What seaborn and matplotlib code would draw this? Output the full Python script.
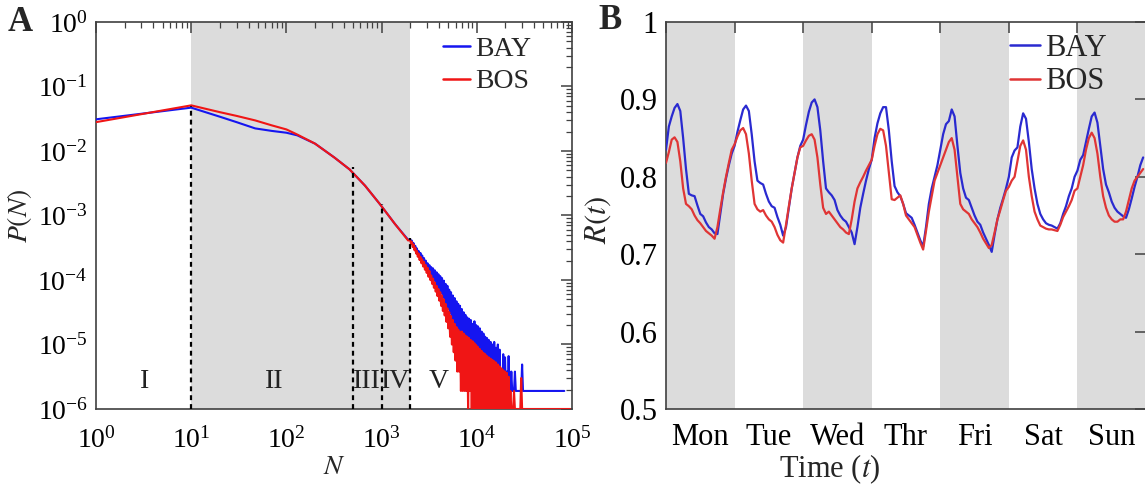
import numpy as np
import pandas as pd
import matplotlib
matplotlib.use("Agg")
import matplotlib.pyplot as plt
import seaborn as sns
from matplotlib.lines import Line2D
from matplotlib.ticker import LogLocator, FixedLocator, NullFormatter, FixedFormatter

# ---------------- Panel A data: P(N) ----------------
cities = ["BAY", "BOS"]
N_main = [1, 10, 20, 30, 47, 70, 100, 130, 200, 320, 460, 670, 960, 1380, 1900]
bay_main = [0.031, 0.047, 0.034, 0.028, 0.0224, 0.0205, 0.0192, 0.0175, 0.013,
            0.0079, 0.0052, 0.0029, 0.0015, 7.4e-4, 4.2e-4]
bos_main = [0.028, 0.051, 0.040, 0.035, 0.0298, 0.025, 0.0216, 0.018, 0.013,
            0.0079, 0.0052, 0.0029, 0.0015, 7.4e-4, 4.1e-4]

# noisy tail (N >= 2000); probabilities stored as log10 values
N_tail = [2000, 2040, 2080, 2125, 2170, 2215, 2260, 2305, 2350, 2400, 2450, 2505, 2560,
          2615, 2670, 2730, 2790, 2850, 2910, 2975, 3040, 3110, 3180, 3250, 3320, 3395,
          3470, 3545, 3620, 3700, 3780, 3865, 3950, 4040, 4130, 4220, 4310, 4405, 4500,
          4600, 4700, 4805, 4910, 5020, 5130, 5245, 5360, 5480, 5600, 5725, 5850, 5980,
          6110, 6245, 6380, 6520, 6660, 6810, 6960, 7115, 7270, 7430, 7590, 7760, 7930,
          8105, 8280, 8465, 8650, 8845, 9040, 9240, 9440, 9650, 9860, 10080, 10300,
          10530, 10760, 11000, 11240, 11490, 11740, 12000, 12260, 12535, 12810, 13095,
          13380, 13675, 13970, 14280, 14590, 14915, 15240, 15580, 15920, 16275, 16630,
          17000, 17370, 17755, 18140, 18545, 18950, 19370, 19790, 20230, 20670, 21130,
          21590, 22070, 22550, 23050, 23550, 24075, 24600, 25145, 25690, 26260, 26830,
          27430, 28030, 28650, 29270, 29920, 30570, 31250, 31930, 32640, 33350, 40000, 60000]
bay_tail_log10 = [
    -3.37, -3.41, -3.39, -3.46, -3.43, -3.50, -3.47, -3.54, -3.51, -3.59, -3.55, -3.63,
    -3.58, -3.68, -3.62, -3.72, -3.66, -3.77, -3.70, -3.80, -3.74, -3.86, -3.77, -3.90,
    -3.80, -3.95, -3.82, -4.00, -3.85, -4.05, -3.88, -4.10, -3.91, -4.16, -3.94, -4.20,
    -3.97, -4.26, -4.01, -4.32, -4.06, -4.38, -4.09, -4.45, -4.15, -4.52, -4.19, -4.60,
    -4.24, -4.68, -4.28, -4.78, -4.33, -4.88, -4.37, -5.00, -4.40, -5.12, -4.45, -5.25,
    -4.50, -5.42, -4.54, -5.72, -4.58, -5.42, -4.60, -5.72, -4.62, -5.72, -4.68, -5.42,
    -4.64, -5.72, -4.70, -5.72, -4.72, -5.42, -4.75, -5.72, -4.80, -5.72, -4.83, -5.72,
    -4.88, -5.42, -4.90, -5.72, -4.93, -5.72, -4.96, -5.72, -5.00, -5.72, -4.96, -5.72,
    -5.05, -5.72, -5.00, -5.72, -5.08, -5.72, -5.42, -5.72, -5.15, -5.72, -5.20, -5.72,
    -5.42, -5.72, -5.18, -5.72, -5.72, -5.42, -5.72, -5.72, -5.72, -5.42, -5.72, -5.72,
    -5.72, -5.72, -5.72, -5.72, -5.72, -5.31, -5.72, -5.72, -5.72, -5.72, -5.72, -5.72,
    -5.72]
bos_tail_log10 = [
    -3.38, -3.44, -3.41, -3.49, -3.45, -3.54, -3.50, -3.59, -3.55, -3.64, -3.59, -3.69,
    -3.64, -3.74, -3.68, -3.79, -3.72, -3.84, -3.77, -3.89, -3.81, -3.95, -3.86, -4.00,
    -3.93, -4.06, -3.98, -4.12, -4.04, -4.18, -4.09, -4.25, -4.14, -4.32, -4.19, -4.40,
    -4.24, -4.48, -4.30, -4.55, -4.37, -4.65, -4.44, -4.75, -4.50, -4.88, -4.56, -5.00,
    -4.62, -5.12, -4.68, -5.25, -4.73, -5.42, -4.77, -5.42, -4.80, -5.72, -4.80, -5.72,
    -4.83, -5.72, -4.86, -5.72, -4.88, -6.00, -4.90, -5.72, -4.93, -6.00, -4.95, -6.00,
    -4.98, -6.00, -5.01, -6.00, -5.04, -6.00, -5.07, -6.00, -5.10, -6.00, -5.13, -6.00,
    -5.15, -6.00, -5.18, -6.00, -5.20, -6.00, -5.22, -6.00, -5.24, -6.00, -5.26, -6.00,
    -5.28, -6.00, -5.31, -6.00, -5.34, -6.00, -5.37, -6.00, -5.40, -6.00, -5.42, -6.00,
    -5.44, -6.00, -5.50, -6.00, -5.72, -6.00, -6.00, -6.00, -5.72, -6.00, -6.00, -6.00,
    -6.00, -6.00, -6.00, -6.00, -5.52, -6.00, -6.00, -6.00, -6.00, -6.00, -6.00, -6.00,
    -6.00]
bay_end_N, bay_end_log10 = [83000], [-5.72]
bos_end_N, bos_end_log10 = [95000], [-6.00]

region_bounds = [10, 500, 1000, 2000]
region_tops = [0.05, 0.0056, 0.0015, 4.4e-4]
region_names = ["I", "II", "III", "IV", "V"]
region_label_N = [3.2, 75, 700, 1400, 4000]

# ---------------- Panel B data: R(t), hourly ----------------
days = ["Mon", "Tue", "Wed", "Thr", "Fri", "Sat", "Sun"]
bay_mon = [0.835, 0.865, 0.878, 0.889, 0.894, 0.885, 0.850, 0.810, 0.778, 0.776, 0.775, 0.763,
           0.752, 0.749, 0.741, 0.735, 0.732, 0.727, 0.726, 0.752, 0.778, 0.798, 0.815, 0.830]
bay_tue = [0.840, 0.858, 0.873, 0.887, 0.892, 0.885, 0.855, 0.820, 0.795, 0.792, 0.790, 0.778,
           0.768, 0.762, 0.760, 0.748, 0.738, 0.724, 0.735, 0.760, 0.785, 0.805, 0.825, 0.840]
bay_wed = [0.848, 0.867, 0.884, 0.896, 0.900, 0.890, 0.860, 0.820, 0.785, 0.780, 0.776, 0.770,
           0.757, 0.750, 0.745, 0.742, 0.735, 0.728, 0.713, 0.735, 0.760, 0.778, 0.795, 0.810]
bay_thr = [0.822, 0.850, 0.869, 0.882, 0.890, 0.890, 0.860, 0.820, 0.788, 0.780, 0.775, 0.765,
           0.753, 0.750, 0.747, 0.738, 0.728, 0.718, 0.710, 0.735, 0.765, 0.785, 0.800, 0.815]
bay_fri = [0.835, 0.855, 0.868, 0.872, 0.887, 0.878, 0.840, 0.805, 0.785, 0.773, 0.770, 0.760,
           0.750, 0.742, 0.738, 0.728, 0.720, 0.712, 0.703, 0.725, 0.745, 0.760, 0.772, 0.785]
bay_sat = [0.800, 0.825, 0.834, 0.838, 0.865, 0.882, 0.875, 0.845, 0.810, 0.785, 0.765, 0.752,
           0.745, 0.740, 0.738, 0.737, 0.735, 0.733, 0.740, 0.752, 0.762, 0.775, 0.785, 0.800]
bay_sun = [0.808, 0.822, 0.828, 0.845, 0.862, 0.878, 0.883, 0.870, 0.840, 0.810, 0.790, 0.780,
           0.768, 0.760, 0.755, 0.752, 0.749, 0.747, 0.758, 0.772, 0.787, 0.800, 0.815, 0.825]
bos_mon = [0.818, 0.832, 0.848, 0.851, 0.845, 0.820, 0.785, 0.765, 0.762, 0.758, 0.750, 0.744,
           0.740, 0.735, 0.730, 0.727, 0.724, 0.720, 0.735, 0.758, 0.780, 0.800, 0.818, 0.835]
bos_tue = [0.842, 0.852, 0.860, 0.863, 0.855, 0.830, 0.795, 0.765, 0.758, 0.755, 0.757, 0.750,
           0.745, 0.742, 0.735, 0.725, 0.718, 0.715, 0.738, 0.762, 0.785, 0.805, 0.825, 0.838]
bos_wed = [0.840, 0.847, 0.853, 0.855, 0.848, 0.825, 0.790, 0.760, 0.752, 0.755, 0.750, 0.745,
           0.740, 0.735, 0.732, 0.728, 0.726, 0.745, 0.768, 0.785, 0.793, 0.800, 0.808, 0.815]
bos_thr = [0.822, 0.840, 0.855, 0.862, 0.860, 0.840, 0.805, 0.771, 0.770, 0.773, 0.776, 0.765,
           0.750, 0.745, 0.740, 0.735, 0.725, 0.715, 0.706, 0.730, 0.755, 0.775, 0.795, 0.805]
bos_fri = [0.815, 0.825, 0.835, 0.845, 0.850, 0.835, 0.800, 0.765, 0.758, 0.755, 0.752, 0.745,
           0.740, 0.735, 0.728, 0.720, 0.714, 0.708, 0.712, 0.728, 0.745, 0.757, 0.770, 0.782]
bos_sat = [0.787, 0.795, 0.800, 0.820, 0.840, 0.847, 0.835, 0.800, 0.775, 0.755, 0.745, 0.737,
           0.735, 0.733, 0.732, 0.732, 0.731, 0.730, 0.738, 0.748, 0.755, 0.762, 0.770, 0.782]
bos_sun = [0.785, 0.800, 0.815, 0.835, 0.850, 0.857, 0.850, 0.830, 0.800, 0.775, 0.760, 0.750,
           0.745, 0.742, 0.742, 0.745, 0.745, 0.755, 0.770, 0.785, 0.795, 0.800, 0.805, 0.810]
bay_week = [bay_mon, bay_tue, bay_wed, bay_thr, bay_fri, bay_sat, bay_sun]
bos_week = [bos_mon, bos_tue, bos_wed, bos_thr, bos_fri, bos_sat, bos_sun]
r_ticks = [0.5, 0.6, 0.7, 0.8, 0.9, 1.0]
r_ticklabels = ["0.5", "0.6", "0.7", "0.8", "0.9", "1"]

# ---------------- style ----------------
sns.set_theme(style="white")
plt.rcParams['font.family'] = ['Liberation Serif', 'DejaVu Serif']
plt.rcParams['mathtext.fontset'] = 'stix'
FSA = 20
FSB = 22
GRAY = '#dcdcdc'
SPINE = '#404040'
colA = {"BAY": "#1515f0", "BOS": "#f01515"}
colB = {"BAY": "#2a2ad0", "BOS": "#e03535"}

fig = plt.figure(figsize=(11.45, 4.86), dpi=100)
W, H = 1145, 486
axA = fig.add_axes([96 / W, (H - 409) / H, 476 / W, 387 / H])
axB = fig.add_axes([666 / W, (H - 409) / H, 480 / W, 387 / H])

def style_spines(ax):
    for s in ax.spines.values():
        s.set_color(SPINE)
        s.set_linewidth(1.2)
        s.set_visible(True)

# ---------------- Panel A ----------------
axA.set_xscale('log')
axA.set_yscale('log')
axA.axvspan(region_bounds[0], region_bounds[-1], color=GRAY, zorder=0, lw=0)

bay_P = bay_main + list(10.0 ** np.array(bay_tail_log10 + bay_end_log10))
bos_P = bos_main + list(10.0 ** np.array(bos_tail_log10 + bos_end_log10))
dfA = pd.concat([
    pd.DataFrame({"N": N_main + N_tail + bay_end_N, "P": bay_P, "city": "BAY"}),
    pd.DataFrame({"N": N_main + N_tail + bos_end_N, "P": bos_P, "city": "BOS"}),
])
sns.lineplot(data=dfA, x="N", y="P", hue="city", hue_order=cities, palette=colA,
             estimator=None, sort=False, linewidth=1.5, legend=False, ax=axA, zorder=3)
axA.vlines(region_bounds, 1e-6, region_tops, colors='black', linestyles=(0, (2.2, 1.8)),
           linewidth=1.6, zorder=4)
for name, xn in zip(region_names, region_label_N):
    axA.text(xn, 2.7e-6, name, ha='center', va='center', fontsize=FSA, color='#222222', zorder=5)

axA.set_xlim(1, 1e5)
axA.set_ylim(1e-6, 1)
axA.xaxis.set_major_locator(LogLocator(base=10, numticks=10))
axA.yaxis.set_major_locator(LogLocator(base=10, numticks=10))
axA.xaxis.set_minor_locator(LogLocator(base=10, subs=np.arange(2, 10), numticks=20))
axA.yaxis.set_minor_locator(LogLocator(base=10, subs=np.arange(2, 10), numticks=20))
axA.xaxis.set_minor_formatter(NullFormatter())
axA.yaxis.set_minor_formatter(NullFormatter())
axA.tick_params(which='both', direction='in', top=True, right=True, colors=SPINE,
                labelcolor='black', labelsize=FSA)
axA.tick_params(which='major', length=8, width=1.1)
axA.tick_params(which='minor', length=4, width=0.9)
axA.tick_params(axis='x', which='major', pad=13)
axA.tick_params(axis='y', which='major', pad=6)
axA.set_xlabel(r"$N$", fontsize=FSA)
axA.xaxis.set_label_coords(0.5, -0.118)
axA.set_ylabel(r"$P(N)$", fontsize=FSA)
axA.yaxis.set_label_coords(-0.13, 0.5)
style_spines(axA)
hA = [Line2D([], [], color=colA[c], lw=1.8) for c in cities]
axA.legend(hA, cities, loc='upper left', bbox_to_anchor=(0.729, 0.962), frameon=False,
           fontsize=FSA, handlelength=0.97, handletextpad=0.18, labelspacing=0.24,
           borderpad=0, borderaxespad=0)

# ---------------- Panel B ----------------
for i in range(0, len(days), 2):
    axB.axvspan(i, i + 1, color=GRAY, zorder=0, lw=0)
hours = np.arange(24 * len(days)) / 24.0
dfB = pd.concat([
    pd.DataFrame({"t": hours, "R": np.concatenate(bay_week), "city": "BAY"}),
    pd.DataFrame({"t": hours, "R": np.concatenate(bos_week), "city": "BOS"}),
])
sns.lineplot(data=dfB, x="t", y="R", hue="city", hue_order=cities, palette=colB,
             estimator=None, linewidth=1.6, legend=False, ax=axB, zorder=3)
axB.set_xlim(0, len(days))
axB.set_ylim(0.5, 1.0)
axB.xaxis.set_major_locator(FixedLocator(np.arange(0, len(days) + 1)))
axB.xaxis.set_major_formatter(NullFormatter())
axB.xaxis.set_minor_locator(FixedLocator(np.arange(len(days)) + 0.5))
axB.xaxis.set_minor_formatter(FixedFormatter(days))
axB.yaxis.set_major_locator(FixedLocator(r_ticks))
axB.yaxis.set_major_formatter(FixedFormatter(r_ticklabels))
axB.tick_params(which='major', direction='in', top=True, right=True, length=8, width=1.1,
                colors=SPINE, labelcolor='black', labelsize=FSB, pad=6)
axB.tick_params(axis='x', which='minor', length=0, labelsize=FSB, pad=10, labelcolor='black')
axB.set_xlabel(r"Time ($t$)", fontsize=FSB)
axB.xaxis.set_label_coords((830 - 666) / 480, -0.112)
axB.set_ylabel(r"$R(t)$", fontsize=FSB)
axB.yaxis.set_label_coords(-0.11, 0.49)
style_spines(axB)
hB = [Line2D([], [], color=colB[c], lw=1.8) for c in cities]
axB.legend(hB, cities, loc='upper left', bbox_to_anchor=(0.717, 0.969), frameon=False,
           fontsize=FSB, handlelength=0.98, handletextpad=0.16, labelspacing=0.14,
           borderpad=0, borderaxespad=0)

fig.text(8 / W, 1 - 31 / H, "A", fontsize=25, fontweight='bold', va='baseline', ha='left')
fig.text(598 / W, 1 - 29 / H, "B", fontsize=25, fontweight='bold', va='baseline', ha='left')

fig.savefig("out.png", dpi=100)
